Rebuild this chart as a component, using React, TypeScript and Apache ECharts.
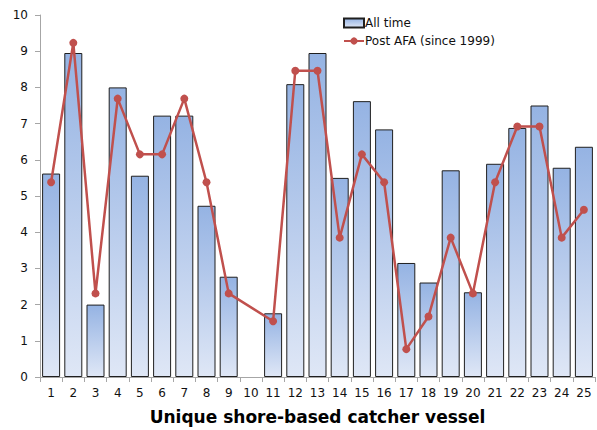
import React, { useEffect, useRef } from "react";
import * as echarts from "echarts";

const vessels = ["1","2","3","4","5","6","7","8","9","10","11","12","13","14","15","16","17","18","19","20","21","22","23","24","25"];
const allTime = [5.62, 8.95, 2.0, 8.0, 5.56, 7.22, 7.22, 4.73, 2.77, null, 1.76, 8.09, 8.95, 5.5, 7.62, 6.84, 3.15, 2.61, 5.71, 2.34, 5.89, 6.88, 7.5, 5.78, 6.36];
const postAfa = [5.38, 9.23, 2.31, 7.69, 6.15, 6.15, 7.69, 5.38, 2.31, null, 1.54, 8.46, 8.46, 3.85, 6.15, 5.38, 0.77, 1.67, 3.85, 2.31, 5.38, 6.92, 6.92, 3.85, 4.62];
const yTicks = [0, 10];

const FONT = "DejaVu Sans";

export default function App() {
  const ref = useRef<HTMLDivElement>(null);

  useEffect(() => {
    if (!ref.current) return;
    const chart = echarts.init(ref.current, undefined, { renderer: "svg" });
    const barFill = new echarts.graphic.LinearGradient(0, 0, 0, 1, [
      { offset: 0, color: "#95b3e3" },
      { offset: 1, color: "#dfe7f6" },
    ]);
    chart.setOption({
      animation: false,
      backgroundColor: "#ffffff",
      textStyle: { fontFamily: FONT },
      grid: { left: 40, right: 2, top: 15, bottom: 52 },
      legend: {
        orient: "vertical",
        left: 338,
        top: 12,
        itemGap: 6,
        itemWidth: 20,
        itemHeight: 9,
        textStyle: { fontFamily: FONT, fontSize: 12, color: "#111", padding: [0, 0, 0, -4] },
        data: [
          { name: "All time", icon: "rect" },
          { name: "Post AFA (since 1999)" },
        ],
      },
      xAxis: {
        type: "category",
        data: vessels,
        name: "Unique shore-based catcher vessel",
        nameLocation: "middle",
        nameGap: 31,
        nameTextStyle: { fontFamily: FONT, fontSize: 17, fontWeight: "bold", color: "#000" },
        axisLine: { lineStyle: { color: "#a6a6a6", width: 1 } },
        axisTick: { show: true, alignWithLabel: false, length: 5, lineStyle: { color: "#a6a6a6" } },
        axisLabel: { fontFamily: FONT, fontSize: 12, color: "#111", margin: 10 },
      },
      yAxis: {
        type: "value",
        min: yTicks[0],
        max: yTicks[1],
        interval: 1,
        splitLine: { show: false },
        axisLine: { show: true, lineStyle: { color: "#a6a6a6", width: 1 } },
        axisTick: { show: true, length: 5, lineStyle: { color: "#a6a6a6" } },
        axisLabel: { fontFamily: FONT, fontSize: 12, color: "#111", margin: 12 },
      },
      series: [
        {
          name: "All time",
          type: "bar",
          data: allTime,
          barWidth: 18,
          itemStyle: { color: barFill, borderColor: "#1f1f1f", borderWidth: 1 },
        },
        {
          name: "Post AFA (since 1999)",
          type: "line",
          data: postAfa,
          connectNulls: true,
          symbol: "circle",
          symbolSize: 8,
          lineStyle: { color: "#c0504d", width: 2.5 },
          itemStyle: { color: "#c0504d" },
        },
      ],
    });
    return () => chart.dispose();
  }, []);

  return <div ref={ref} style={{ width: 597, height: 430, position: "absolute", left: 0, top: 0 }} />;
}
